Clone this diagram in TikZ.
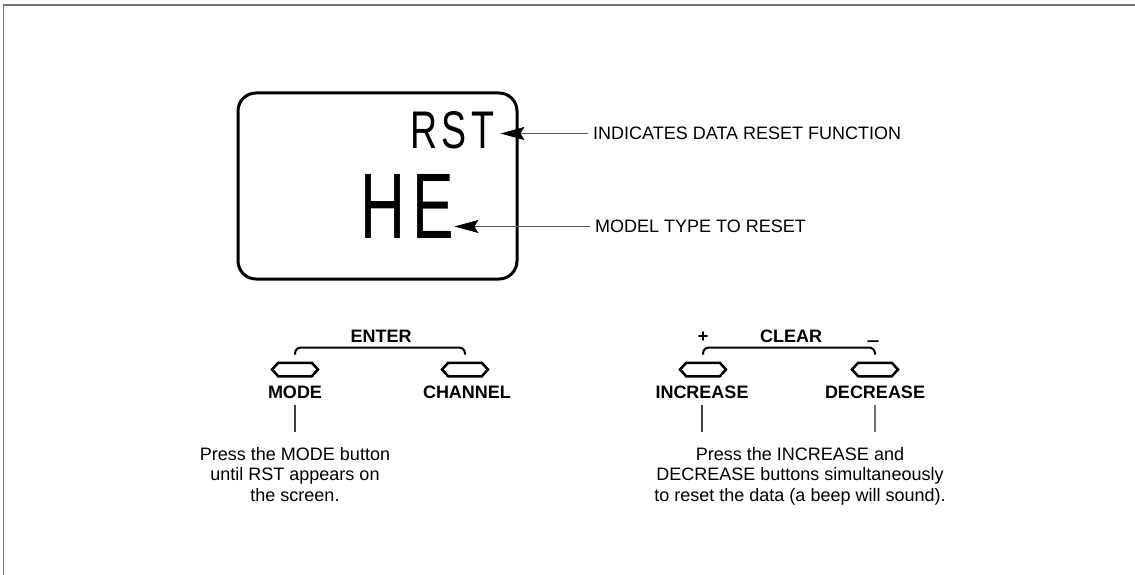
\documentclass[tikz,border=0pt]{standalone}
\usepackage{fontspec}
\usepackage{graphicx}
\setmainfont{Liberation Sans}
\usetikzlibrary{shapes.symbols,arrows.meta}
\begin{document}
\begin{tikzpicture}[x=1pt,y=-1pt,
  lbl/.style={inner sep=0pt,font=\fontsize{18}{20.5}\selectfont},
  blbl/.style={inner sep=0pt,font=\fontsize{18}{20.5}\selectfont\bfseries},
  body/.style={inner sep=0pt,align=center,font=\fontsize{18}{20.5}\selectfont},
  btn/.style={draw,signal,signal to=east and west,signal pointer angle=95,
    minimum width=46pt,minimum height=13.5pt,inner sep=0pt,line width=2.5pt},
  brk/.style={line width=2pt,rounded corners=6pt},
  leader/.style={draw=black!65,line width=1pt,-{Stealth[length=24pt,width=13pt,inset=4pt,color=black]},shorten <=5pt},
  tick/.style={draw=black!75,line width=1.1pt,shorten <=7pt,shorten >=15pt},
  frame/.style={draw=black!55,line width=1.2pt}
]
\useasboundingbox (0,0) rectangle (1135,575);
\draw[frame] (3.5,575) -- (3.5,5) -- (1135,5);

% display
\node[draw,rounded corners=18pt,line width=3pt,minimum width=279pt,minimum height=186pt,inner sep=0pt] (disp) at (377.5,186) {};
\node[inner sep=0pt,anchor=south west] (rst) at (410,149) {\resizebox{84pt}{37pt}{R\kern0.12em S\kern0.12em T}};
\node[inner sep=0pt,anchor=south west] (he) at (360,239) {\resizebox{94pt}{64pt}{H\kern0.12em E}};

\node[lbl,anchor=west] (indtxt) at (593,133.5) {INDICATES DATA RESET FUNCTION};
\node[lbl,anchor=west] (modeltxt) at (595,226.5) {MODEL TYPE TO RESET};
\draw[leader] (indtxt.west) -- ([xshift=6pt]indtxt.west -| rst.east);
\draw[leader] (modeltxt.west) -- ([xshift=0pt]modeltxt.west -| he.east);

% left group
\node[btn] (mode) at (295,369.5) {};
\node[btn] (chan) at (465,369.5) {};
\draw[brk] ([yshift=7pt]mode.north) -- ([yshift=14pt]mode.north) -- ([yshift=14pt]chan.north) -- ([yshift=7pt]chan.north);
\node[blbl,anchor=base] (enter) at (381,342) {ENTER};
\node[blbl,anchor=base] (modelbl) at (295,398) {MODE};
\node[blbl,anchor=base] (chanlbl) at (467,398) {CHANNEL};
\node[body,anchor=north] (modetxt) at (295,447) {Press the MODE button\\until RST appears on\\the screen.};
\draw[tick] (modelbl.south) -- (modelbl.south |- modetxt.north);

% right group
\node[btn] (inc) at (703,369.5) {};
\node[btn] (dec) at (875,369.5) {};
\draw[brk] ([yshift=7pt]inc.north) -- ([yshift=14pt]inc.north) -- ([yshift=14pt]dec.north) -- ([yshift=7pt]dec.north);
\node[blbl,anchor=base] (plus) at (703,342) {+};
\node[blbl,anchor=base] (clear) at (791,342) {CLEAR};
\node[blbl,anchor=base] (minus) at (873,346) {\scalebox{1.25}[1]{–}};
\node[blbl,anchor=base] (inclbl) at (702,398) {INCREASE};
\node[blbl,anchor=base] (declbl) at (875,398) {DECREASE};
\node[body,anchor=north] (inctxt) at (800,447) {Press the INCREASE and\\DECREASE buttons simultaneously\\to reset the data (a beep will sound).};
\draw[tick] (inclbl.south) -- (inclbl.south |- inctxt.north);
\draw[tick,draw=black!55] (declbl.south) -- (declbl.south |- inctxt.north);
\end{tikzpicture}
\end{document}
